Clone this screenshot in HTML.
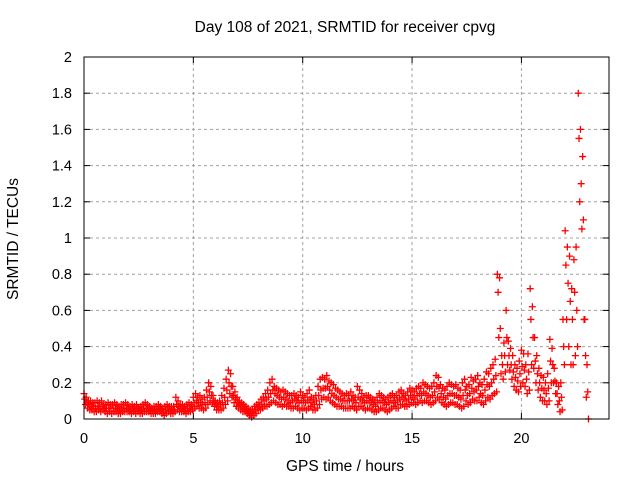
<!DOCTYPE html>
<html><head><meta charset="utf-8"><style>
body{margin:0;background:#fff}
svg text{font-family:"Liberation Sans",sans-serif;font-size:14.5px;fill:#000}
svg text.big{font-size:15.5px}
</style></head><body>
<svg id="c" width="640" height="480">
<rect width="640" height="480" fill="#fff"/>
<g id="grid"></g>
<g id="axes"></g>
<g id="pts"></g>
<rect x="84" y="57" width="525" height="362" fill="none" stroke="#000" stroke-width="1"/>
<text class="big" x="345" y="32" text-anchor="middle">Day 108 of 2021, SRMTID for receiver cpvg</text>
<text class="big" x="345" y="471" text-anchor="middle">GPS time / hours</text>
<text class="big" transform="translate(18,239) rotate(-90)" text-anchor="middle">SRMTID / TECUs</text>
</svg>
<script>
const xTicks=[0,5,10,15,20];
const yTicks=[0,0.2,0.4,0.6,0.8,1,1.2,1.4,1.6,1.8,2];
const yTickLabels=["0","0.2","0.4","0.6","0.8","1","1.2","1.4","1.6","1.8","2"];
const timeStep=0.1;
const upperValues=[
.14,.12,.10,.10,.09,.09,.10,.09,.10,.08,
.08,.09,.08,.08,.09,.08,.07,.08,.08,.09,
.08,.07,.08,.07,.08,.06,.07,.08,.09,.08,
.07,.06,.07,.07,.08,.07,.06,.07,.08,.07,
.07,.07,.12,.10,.08,.08,.07,.08,.09,.08,
.12,.14,.12,.13,.11,.12,.16,.20,.18,.13,
.10,.09,.10,.13,.17,.22,.27,.25,.18,.15,
.12,.10,.09,.08,.07,.06,.05,.05,.07,.08,
.09,.11,.12,.14,.16,.20,.22,.18,.17,.16,
.15,.16,.15,.14,.13,.13,.14,.13,.12,.15,
.13,.12,.14,.16,.12,.11,.13,.18,.22,.23,
.22,.24,.21,.20,.19,.17,.16,.15,.14,.13,
.14,.13,.15,.13,.12,.18,.16,.14,.12,.13,
.13,.12,.11,.10,.12,.14,.13,.12,.11,.12,
.13,.14,.12,.13,.15,.16,.14,.13,.15,.17,
.16,.15,.17,.18,.17,.20,.19,.18,.17,.18,
.20,.24,.23,.19,.17,.16,.18,.20,.19,.18,
.19,.17,.16,.20,.22,.18,.19,.23,.21,.22,
.24,.20,.19,.22,.26,.25,.28,.30,.33,.80,
.78,.35,.42,.60,.43,.39,.35,.30,.28,.32,
.38,.36,.30,.36,.72,.62,.45,.35,.28,.24,
.23,.20,.25,.44,.39,.28,.20,.18,.20,.55,
1.04,.95,.90,.72,.88,.95,1.80,1.60,1.45,.55,
.30];
const midValues=[
.11,.09,.08,.07,.07,.06,.07,.06,.07,.06,
.06,.06,.06,.06,.06,.06,.05,.06,.06,.06,
.06,.05,.06,.05,.06,.05,.05,.06,.06,.06,
.05,.05,.05,.05,.06,.05,.04,.05,.06,.05,
.05,.05,.08,.07,.06,.06,.05,.06,.06,.07,
.09,.10,.09,.09,.08,.09,.12,.15,.13,.10,
.08,.07,.08,.09,.12,.16,.20,.18,.13,.11,
.09,.08,.07,.06,.05,.04,.03,.04,.05,.06,
.07,.08,.10,.11,.12,.14,.16,.14,.13,.12,
.11,.12,.11,.10,.09,.10,.11,.10,.09,.10,
.10,.09,.10,.11,.09,.08,.10,.13,.16,.17,
.17,.18,.16,.14,.13,.12,.11,.11,.10,.10,
.10,.10,.11,.10,.09,.12,.11,.10,.09,.10,
.10,.09,.08,.07,.09,.10,.10,.09,.08,.09,
.10,.10,.09,.10,.11,.12,.11,.10,.11,.13,
.12,.11,.13,.14,.13,.15,.14,.13,.12,.13,
.15,.18,.17,.14,.12,.11,.13,.14,.14,.13,
.13,.12,.11,.13,.16,.13,.14,.17,.15,.16,
.18,.14,.13,.16,.19,.18,.20,.22,.24,.70,
.50,.30,.35,.45,.35,.30,.26,.23,.21,.25,
.29,.27,.22,.26,.55,.45,.32,.25,.20,.17,
.16,.14,.17,.32,.30,.21,.14,.10,.12,.40,
.85,.75,.65,.55,.70,.60,1.55,1.30,1.10,.35,
.15];
const lowerValues=[
.08,.06,.05,.05,.04,.04,.05,.04,.05,.04,
.03,.04,.03,.04,.04,.03,.03,.04,.04,.04,
.04,.03,.04,.03,.04,.03,.03,.04,.04,.04,
.03,.03,.03,.04,.04,.03,.02,.03,.04,.03,
.03,.04,.05,.04,.04,.04,.03,.04,.04,.05,
.06,.07,.06,.06,.05,.06,.08,.10,.09,.07,
.05,.05,.05,.06,.08,.10,.14,.12,.09,.07,
.06,.05,.04,.04,.03,.02,.01,.02,.03,.05,
.05,.06,.07,.07,.08,.09,.10,.09,.08,.08,
.07,.08,.07,.07,.06,.06,.07,.06,.05,.06,
.06,.05,.06,.07,.05,.05,.06,.08,.11,.12,
.11,.12,.10,.09,.08,.07,.07,.07,.06,.06,
.06,.06,.07,.06,.05,.07,.07,.06,.05,.06,
.06,.05,.04,.04,.05,.06,.06,.05,.04,.05,
.06,.07,.06,.06,.08,.08,.07,.07,.08,.09,
.09,.08,.09,.10,.09,.10,.10,.09,.08,.09,
.10,.12,.11,.09,.08,.07,.08,.09,.09,.08,
.08,.07,.06,.07,.10,.08,.09,.11,.10,.10,
.12,.09,.08,.10,.12,.11,.13,.14,.15,.45,
.25,.22,.26,.30,.27,.22,.18,.16,.15,.18,
.20,.18,.14,.16,.30,.28,.20,.16,.12,.10,
.10,.08,.10,.20,.20,.14,.08,.04,.05,.30,
.55,.40,.30,.30,.35,.40,1.20,1.05,.55,.12,
.00];
const X0=84,X1=608.9,Y0=419,Y1=57,XMAX=24,YMAX=2;
function xs(v){return X0+v/XMAX*(X1-X0);}
function ys(v){return Y0-v/YMAX*(Y0-Y1);}
const NS="http://www.w3.org/2000/svg";
const grid=document.getElementById('grid'),axes=document.getElementById('axes'),pts=document.getElementById('pts');
function mk(tag,attrs,parent){const e=document.createElementNS(NS,tag);for(const k in attrs)e.setAttribute(k,attrs[k]);parent.appendChild(e);return e;}
xTicks.forEach(t=>{
  const x=xs(t);
  if(t>0){const g=mk('line',{x1:x,x2:x,y1:Y0,y2:Y1,stroke:'#a0a0a0','stroke-dasharray':'3,3'},grid);
  
  }
  mk('line',{x1:x,x2:x,y1:Y0,y2:Y0-6,stroke:'#000'},axes);
  mk('line',{x1:x,x2:x,y1:Y1,y2:Y1+6,stroke:'#000'},axes);
  const tx=mk('text',{x:x,y:Y0+24,'text-anchor':'middle'},axes);tx.textContent=t;
  
  
});
yTicks.forEach((t,i)=>{
  const y=ys(t);
  if(t>0&&t<YMAX){const g=mk('line',{x1:X0,x2:X1,y1:y,y2:y,stroke:'#a0a0a0','stroke-dasharray':'3,3'},grid);
  
  }
  mk('line',{x1:X0,x2:X0+6,y1:y,y2:y,stroke:'#000'},axes);
  mk('line',{x1:X1,x2:X1-6,y1:y,y2:y,stroke:'#000'},axes);
  const tx=mk('text',{x:X0-12,y:y+5,'text-anchor':'end'},axes);tx.textContent=yTickLabels[i];
  
  
});
function plus(t,v){
  const x=xs(t),y=ys(v);
  const p=mk('path',{d:`M${x-3.5},${y}h7M${x},${y-3.5}v7`,stroke:'#f00','stroke-width':1.3,fill:'none'},pts);
  
  
}
upperValues.forEach((v,i)=>plus(i*timeStep,v));
midValues.forEach((v,i)=>plus(i*timeStep+0.033,v));
lowerValues.forEach((v,i)=>plus(i*timeStep+0.066,v));
</script>
</body></html>
